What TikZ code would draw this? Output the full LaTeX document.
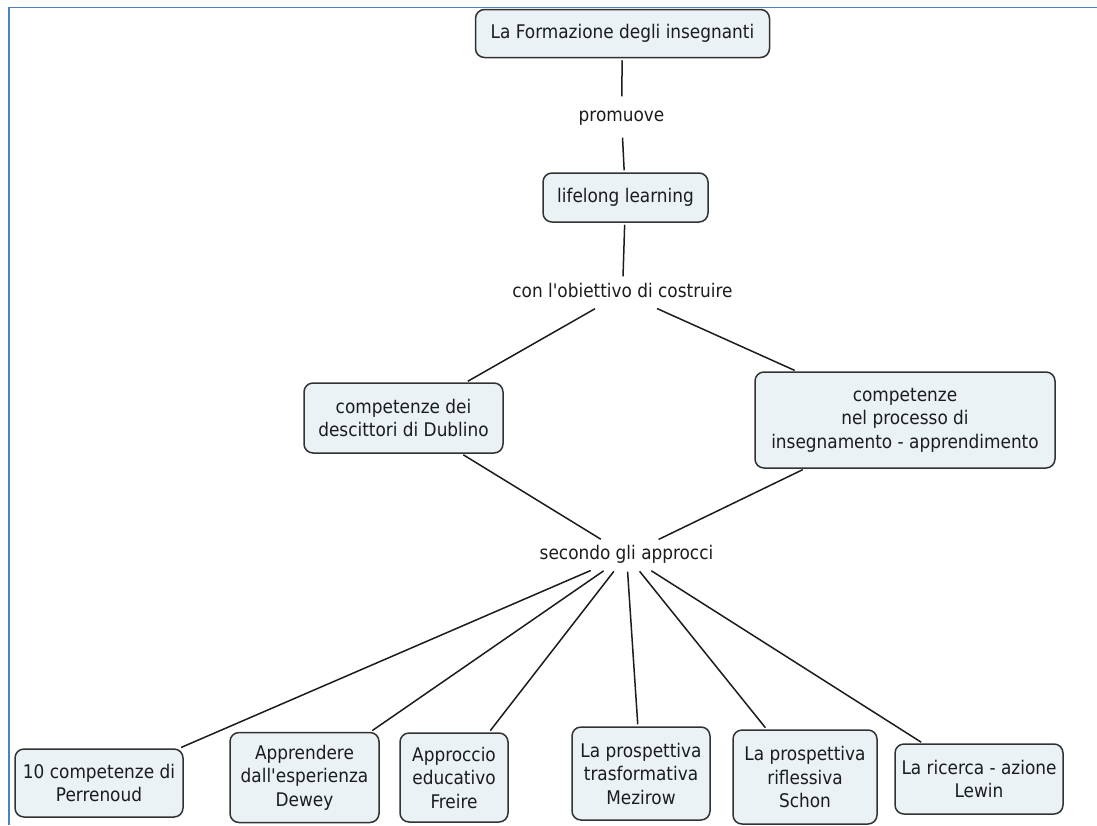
\documentclass[tikz,border=0pt]{standalone}
\usepackage{fontspec}
\newfontfamily\mapfont{DejaVu Sans Condensed}
\usepackage{xcolor}
\definecolor{boxfill}{RGB}{234, 242, 246}
\definecolor{boxline}{RGB}{50, 50, 50}
\definecolor{inkgray}{RGB}{28, 28, 28}
\definecolor{frameblue}{RGB}{79, 129, 189}
\usepackage{tikz}

\begin{document}
\begin{tikzpicture}[x=1pt, y=-1pt,
  concept/.style={draw=boxline, fill=boxfill, rounded corners=9pt, font=\mapfont\fontsize{18.8}{23.5}\selectfont, text=inkgray, align=center, inner sep=4pt, line width=1.5pt},
  linkword/.style={font=\mapfont\fontsize{18.8}{23.5}\selectfont, text=inkgray, text height=13pt, text depth=4pt, inner xsep=3pt, inner ysep=6pt},
  link/.style={line width=1.5pt, color=inkgray, shorten <=2pt, shorten >=2pt}
]
\useasboundingbox (0,0) rectangle (1097,825);
\draw[frameblue, line width=1.5pt] (1097,7.5) -- (9,7.5);
\draw[frameblue, line width=2.5pt] (9,6.5) -- (9,825);

\node[concept, minimum width=294pt, minimum height=48pt] (formazione) at (622.5,33.5) {La Formazione degli insegnanti};
\node[linkword, inner ysep=10pt] (promuove) at (621.5,117) {promuove};
\node[concept, minimum width=165pt, minimum height=49pt] (lifelong) at (625.5,197.5) {lifelong learning};
\node[linkword] (obiettivo) at (622.5,293) {con l'obiettivo di costruire};
\node[concept, minimum width=199pt, minimum height=70pt] (dublino) at (403.5,418) {competenze dei\\descittori di Dublino};
\node[concept, minimum width=300pt, minimum height=96pt] (processo) at (905,420) {competenze\\nel processo di\\insegnamento - apprendimento};
\node[linkword] (approcci) at (626.5,555) {secondo gli approcci};

\node[concept, minimum width=168pt, minimum height=68pt] (perrenoud) at (99,783) {10 competenze di\\Perrenoud};
\node[concept, minimum width=149pt, minimum height=90pt] (dewey) at (304.5,777.5) {Apprendere\\dall'esperienza\\Dewey};
\node[concept, minimum width=108pt, minimum height=89pt] (freire) at (454,777.5) {Approccio\\educativo\\Freire};
\node[concept, minimum width=138pt, minimum height=93pt] (mezirow) at (641,773.5) {La prospettiva\\trasformativa\\Mezirow};
\node[concept, minimum width=144pt, minimum height=94pt] (schon) at (805,777) {La prospettiva\\riflessiva\\Schon};
\node[concept, minimum width=168pt, minimum height=70pt] (lewin) at (979,779) {La ricerca - azione\\Lewin};

\draw[link] (formazione) -- (promuove);
\draw[link] (promuove) -- (lifelong);
\draw[link] (lifelong) -- (obiettivo);
\draw[link] (obiettivo) -- (dublino);
\draw[link] (obiettivo) -- (processo);
\draw[link] (dublino) -- (approcci);
\draw[link] (processo) -- (approcci);
\foreach \n in {perrenoud,dewey,freire,mezirow,schon,lewin}
  \draw[link] (approcci) -- (\n);
\end{tikzpicture}
\end{document}
